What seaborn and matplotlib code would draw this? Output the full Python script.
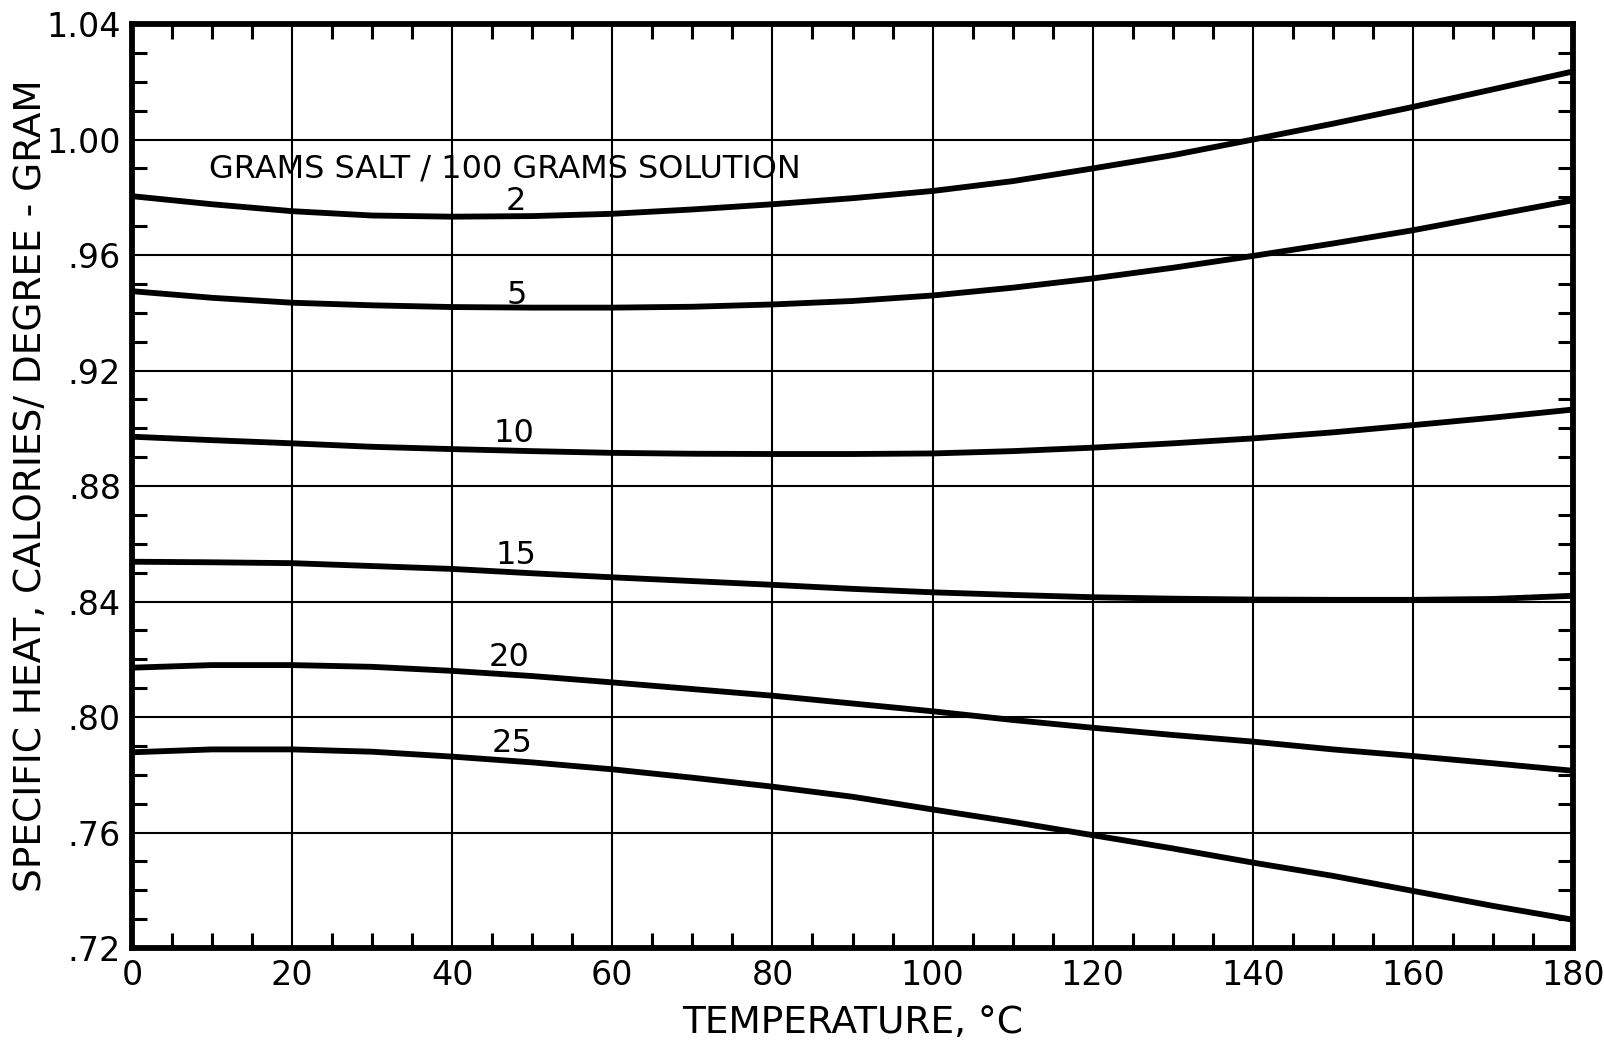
import numpy as np
import pandas as pd
import matplotlib
matplotlib.use("Agg")
import matplotlib.pyplot as plt
import seaborn as sns
from matplotlib.ticker import MultipleLocator

sns.set_style("white")
plt.rcParams["font.family"] = ["DejaVu Sans"]
plt.rcParams["text.color"] = "black"
plt.rcParams["axes.labelcolor"] = "black"
plt.rcParams["xtick.color"] = "black"
plt.rcParams["ytick.color"] = "black"

# temperature, deg C
temps = [0, 10, 20, 30, 40, 50, 60, 70, 80, 90, 100, 110, 120, 130, 140, 150, 160, 170, 180]

# specific heat, cal/deg-g, one list per concentration (g salt / 100 g solution)
cp_2 = [0.9804, 0.9776, 0.9752, 0.9737, 0.9733, 0.9735, 0.9743, 0.9758, 0.9776, 0.9797,
        0.9822, 0.9856, 0.9900, 0.9946, 1.0000, 1.0055, 1.0113, 1.0174, 1.0236]
cp_5 = [0.9475, 0.9452, 0.9435, 0.9426, 0.9420, 0.9418, 0.9418, 0.9421, 0.9429, 0.9441,
        0.9460, 0.9487, 0.9519, 0.9556, 0.9597, 0.9640, 0.9686, 0.9738, 0.9790]
cp_10 = [0.8971, 0.8959, 0.8948, 0.8936, 0.8928, 0.8921, 0.8915, 0.8912, 0.8911, 0.8911,
         0.8913, 0.8921, 0.8933, 0.8948, 0.8965, 0.8986, 0.9011, 0.9037, 0.9065]
cp_15 = [0.8538, 0.8536, 0.8533, 0.8523, 0.8513, 0.8498, 0.8484, 0.8471, 0.8458, 0.8444,
         0.8432, 0.8423, 0.8415, 0.8410, 0.8407, 0.8406, 0.8406, 0.8409, 0.8420]
cp_20 = [0.8171, 0.8180, 0.8180, 0.8174, 0.8160, 0.8142, 0.8120, 0.8097, 0.8074, 0.8047,
         0.8020, 0.7990, 0.7963, 0.7938, 0.7915, 0.7888, 0.7865, 0.7840, 0.7814]
cp_25 = [0.7878, 0.7888, 0.7888, 0.7880, 0.7863, 0.7843, 0.7819, 0.7790, 0.7759, 0.7724,
         0.7680, 0.7637, 0.7591, 0.7545, 0.7496, 0.7450, 0.7398, 0.7346, 0.7298]

conc_labels = ["2", "5", "10", "15", "20", "25"]
# where each curve label sits (temp, specific heat)
label_x = [48.0, 48.1, 47.7, 48.0, 47.1, 47.5]
label_y = [0.9785, 0.9461, 0.8983, 0.8558, 0.8208, 0.7910]

x_ticks = [0, 20, 40, 60, 80, 100, 120, 140, 160, 180]
y_ticks = [0.72, 0.76, 0.80, 0.84, 0.88, 0.92, 0.96, 1.00, 1.04]
y_tick_labels = [".72", ".76", ".80", ".84", ".88", ".92", ".96", "1.00", "1.04"]

series = [cp_2, cp_5, cp_10, cp_15, cp_20, cp_25]
df = pd.concat(
    [pd.DataFrame({"temp": temps, "cp": s, "conc": c}) for s, c in zip(series, conc_labels)],
    ignore_index=True,
)

fig = plt.figure(figsize=(16.04, 10.47), dpi=100)
ax = fig.add_axes([0.0823, 0.0945, 0.8984, 0.8825])

sns.lineplot(data=df, x="temp", y="cp", hue="conc", palette=["black"] * 6,
             linewidth=4.2, legend=False, ax=ax)

ax.set_xlim(0, 180)
ax.set_ylim(0.72, 1.04)
ax.set_xticks(x_ticks)
ax.set_yticks(y_ticks)
ax.set_yticklabels(y_tick_labels)
ax.xaxis.set_minor_locator(MultipleLocator(5))
ax.yaxis.set_minor_locator(MultipleLocator(0.01))
ax.grid(True, which="major", color="black", linewidth=1.5)
ax.set_axisbelow(True)

for sp in ax.spines.values():
    sp.set_linewidth(4.2)
    sp.set_color("black")

ax.tick_params(which="major", direction="in", length=0, labelsize=24, pad=8,
               top=True, right=True, labelcolor="black")
ax.tick_params(which="minor", direction="in", length=11, width=2.2, color="black",
               top=True, right=True, bottom=True, left=True)

ax.set_xlabel("TEMPERATURE, °C", fontsize=27, va="center", ha="center", color="black")
ax.set_ylabel("SPECIFIC HEAT, CALORIES/ DEGREE - GRAM", fontsize=27,
              va="center", ha="center", color="black")
ax.xaxis.set_label_coords(0.5, -0.081)
ax.yaxis.set_label_coords(-0.070, 0.5)

ax.text(46.6, 0.9898, "GRAMS SALT / 100 GRAMS SOLUTION", fontsize=23,
        ha="center", va="center", color="black")
for lx, ly, lab in zip(label_x, label_y, conc_labels):
    ax.text(lx, ly, lab, fontsize=23, ha="center", va="center", color="black")

fig.savefig("out.png", dpi=100)
